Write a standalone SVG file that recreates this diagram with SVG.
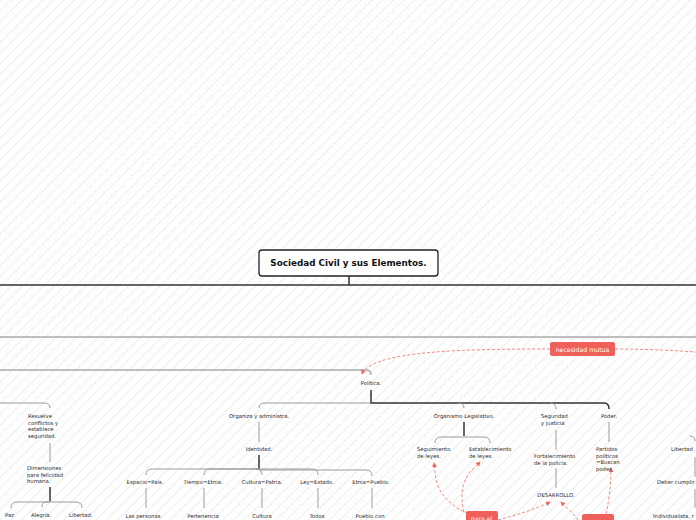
<svg xmlns="http://www.w3.org/2000/svg" width="696" height="520" viewBox="0 0 696 520">
<defs>
<pattern id="hatch" width="7.5" height="7.5" patternUnits="userSpaceOnUse" patternTransform="rotate(45)">
<line x1="0.5" y1="0" x2="0.5" y2="7.5" stroke="#e4e4e4" stroke-width="1" stroke-dasharray="1.2 0.8"/>
</pattern>
<marker id="arr" viewBox="0 0 6 6" refX="5" refY="3" markerWidth="5" markerHeight="5" orient="auto">
<path d="M0,0 L6,3 L0,6 z" fill="#f0655d"/>
</marker>
<style>
.t{font-family:"DejaVu Sans","Liberation Sans",sans-serif;font-size:5.3px;fill:#2a2a2a}
.m{text-anchor:middle}
.dk{fill:none;stroke:#333;stroke-width:1.5}
.gr{fill:none;stroke:#9a9a9a;stroke-width:1}
.gr2{fill:none;stroke:#aaa;stroke-width:1.5}
.rd{fill:none;stroke:#f28a83;stroke-width:1;stroke-dasharray:3 2}
.lab{fill:#f0605a}
.lt{font-family:"DejaVu Sans","Liberation Sans",sans-serif;font-size:6.2px;fill:#fff;text-anchor:middle}
</style>
</defs>
<rect width="696" height="520" fill="#fff"/>
<rect width="696" height="520" fill="url(#hatch)"/>

<g id="connectors">
<path class="dk" d="M349 276 V285 M0 285 H696"/>
<path class="gr2" d="M0 337 H696"/>
<path class="gr2" d="M0 370 H366 Q371 370 371 375"/>
<path class="dk" d="M371 390 V403 H604 Q609 403 609 409"/>
<path class="gr" d="M371 403 H265 Q259 403 259 408"/>
<path class="gr" d="M458 403 Q464 403 464 408"/>
<path class="gr" d="M550 403 Q556 403 556 409"/>
<path class="gr" d="M0 403 H44 Q50 403 50 408"/>
<path class="gr" d="M50 443 V462"/>
<path class="dk" d="M50 487 V501"/>
<path class="gr" d="M50 502 H17 Q11 502 11 508 M50 502 H46 Q42 502 42 507 M50 502 H76 Q82 502 82 508"/>
<path class="gr" d="M259 422 V442"/>
<path class="dk" d="M259 455 V469"/>
<path class="gr" d="M259 469 H152 Q146 469 146 475 M259 469 H210 Q204 469 204 475 M259 469 H256 Q262 469 262 475 M259 469 H312 Q318 469 318 475 M259 470 H366 Q372 470 372 476"/>
<path class="gr" d="M146 488 V508 M204 488 V508 M262 488 V508 M318 488 V508 M372 488 V508"/>
<path class="dk" d="M464 422 V436"/>
<path class="gr" d="M464 437 H441 Q435 437 435 443 M464 437 H484 Q490 437 490 443"/>
<path class="gr" d="M556 430 V450 M556 468 V488"/>
<path class="gr" d="M609 422 V442"/>
<path class="gr" d="M690 436 Q695 436 695 441 M695 457 V477 M695 489 V508"/>
<path class="rd" d="M550 349 C470 349 372 350 362 374" marker-end="url(#arr)"/>
<path class="rd" d="M615 349 C650 349 680 351 696 352"/>
<path class="rd" d="M468 514 C450 505 440 495 436 480 L434 463" marker-end="url(#arr)"/>
<path class="rd" d="M464 512 C461 500 460 485 470 472 L480 462" marker-end="url(#arr)"/>
<path class="rd" d="M498 520 C520 514 538 508 550 502" marker-end="url(#arr)"/>
<path class="rd" d="M578 520 C572 512 566 507 561 502" marker-end="url(#arr)"/>
<path class="rd" d="M606 514 C609 500 611 485 611 468" marker-end="url(#arr)"/>
</g>

<g id="root">
<rect x="259" y="250" width="179" height="26" rx="3" fill="#fff" stroke="#222" stroke-width="1.3"/>
<text x="348.5" y="266" style="font-family:'DejaVu Sans','Liberation Sans',sans-serif;font-size:8.8px;font-weight:bold;fill:#111" text-anchor="middle">Sociedad Civil y sus Elementos.</text>
</g>

<g id="politica"><text class="t m" x="371" y="385">Política.</text></g>

<g id="resuelve"><text class="t" x="28" y="418">Resuelve<tspan x="28" dy="6.5">conflictos y</tspan><tspan x="28" dy="6.5">establece</tspan><tspan x="28" dy="6.5">seguridad.</tspan></text></g>
<g id="dimensiones"><text class="t" x="27" y="470">Dimensiones<tspan x="27" dy="6.5">para felicidad</tspan><tspan x="27" dy="6.5">humana.</tspan></text></g>
<g id="paz"><text class="t" x="5" y="517">Paz</text></g>
<g id="alegria"><text class="t" x="31" y="517">Alegría.</text></g>
<g id="libertad1"><text class="t" x="69" y="517">Libertad.</text></g>

<g id="organiza"><text class="t m" x="259" y="418">Organiza y administra.</text></g>
<g id="identidad"><text class="t m" x="259" y="451">Identidad.</text></g>
<g id="espacio"><text class="t m" x="145" y="484">Espacio=País.</text></g>
<g id="tiempo"><text class="t m" x="203" y="484">Tiempo=Etnia.</text></g>
<g id="cultura"><text class="t m" x="262" y="484">Cultura=Patria.</text></g>
<g id="ley"><text class="t m" x="317" y="484">Ley=Estado.</text></g>
<g id="etnia"><text class="t m" x="371" y="484">Etnia=Pueblo.</text></g>
<g id="personas"><text class="t m" x="143" y="518">Las personas</text></g>
<g id="pertenencia"><text class="t m" x="203" y="518">Pertenencia</text></g>
<g id="cultura2"><text class="t m" x="262" y="518">Cultura</text></g>
<g id="todos"><text class="t m" x="317" y="518">Todos</text></g>
<g id="pueblo"><text class="t m" x="370" y="518">Pueblo con</text></g>

<g id="legislativo"><text class="t m" x="464" y="418">Organismo Legislativo.</text></g>
<g id="seguimiento"><text class="t" x="417" y="451">Seguimiento<tspan x="417" dy="6.5">de leyes.</tspan></text></g>
<g id="establecimiento"><text class="t" x="469" y="451">Establecimiento<tspan x="469" dy="6.5">de leyes.</tspan></text></g>
<g id="seguridad"><text class="t" x="541" y="418">Seguridad<tspan x="541" dy="6.5">y justicia</tspan></text></g>
<g id="fortalecimiento"><text class="t" x="534" y="458">Fortalecimiento<tspan x="534" dy="6.5">de la policía.</tspan></text></g>
<g id="desarrollo"><text class="t m" x="556" y="497">DESARROLLO.</text></g>
<g id="poder"><text class="t m" x="609" y="418">Poder.</text></g>
<g id="partidos"><text class="t" x="596" y="451">Partidos<tspan x="596" dy="6.5">políticos</tspan><tspan x="596" dy="6.5">=Buscan</tspan><tspan x="596" dy="6.5">poder.</tspan></text></g>

<g id="libertad2"><text class="t" x="671" y="451">Libertad</text></g>
<g id="deber"><text class="t" x="657" y="484">Deber cumplir</text></g>
<g id="individualista"><text class="t" x="653" y="518">Individualista, r</text></g>

<g id="necesidad"><rect class="lab" x="550" y="342" width="65" height="14" rx="2"/><text class="lt" x="582.5" y="351.5">necesidad mutua</text></g>
<g id="parael"><rect class="lab" x="466" y="511" width="32" height="14" rx="2"/><text class="lt" x="481.5" y="520.5">para el</text></g>
<g id="label2"><rect class="lab" x="582" y="514" width="32" height="14" rx="2"/></g>
</svg>
